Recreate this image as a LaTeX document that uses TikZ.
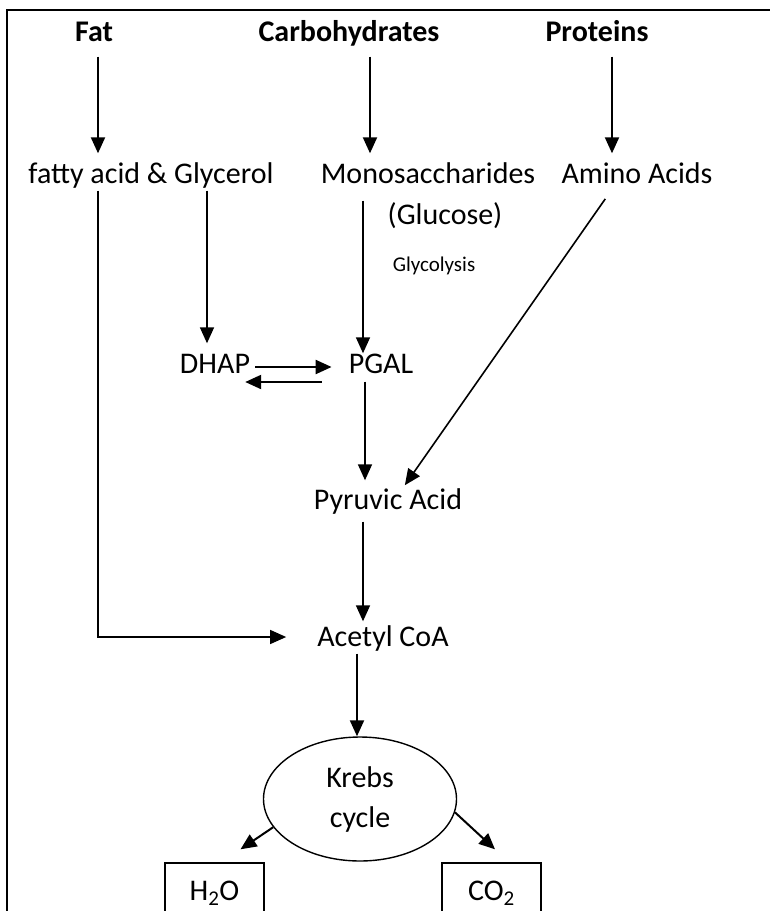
\documentclass[tikz,border=0pt]{standalone}
\usepackage{fontspec}
\setmainfont{Carlito}
\usetikzlibrary{arrows.meta,shapes.geometric}
\tikzset{
  lbl/.style={inner sep=0pt, text height=20pt, text depth=7pt, font=\fontsize{30}{36}\selectfont},
  toplbl/.style={lbl, font=\fontsize{30}{36}\selectfont\bfseries},
  arr/.style={line width=2pt, -{Triangle[length=16pt,width=14pt]}},
  thinarr/.style={arr, line width=1.6pt},
  endbox/.style={draw, line width=1.4pt, minimum width=99pt, minimum height=60pt, inner sep=0pt, font=\fontsize{30}{36}\selectfont},
}
\begin{document}
\begin{tikzpicture}[x=1pt, y=-1pt]
  \useasboundingbox (0,0) rectangle (770,911);
  % frame
  \draw[line width=2pt] (770,10) -- (7,10) -- (7,911);
  % Sources
  \node[toplbl] (fat) at (94,35) {Fat};
  \node[toplbl] (carbs) at (349,35) {Carbohydrates};
  \node[toplbl] (proteins) at (597,35) {Proteins};
  % Digestion products
  \node[lbl] (fatty) at (151,177) {fatty acid \& Glycerol};
  \node[lbl] (mono) at (428,177) {Monosaccharides};
  \node[lbl] (amino) at (637,177) {Amino Acids};
  \node[lbl] (glucose) at (445,218) {(Glucose)};
  \node[lbl, font=\fontsize{21}{25}\selectfont] (glyco) at (434,265) {Glycolysis};
  % Intermediates
  \node[lbl] (dhap) at (215,367) {DHAP};
  \node[lbl] (pgal) at (381,367) {PGAL};
  \node[lbl] (pyruvic) at (388,503) {Pyruvic Acid};
  \node[lbl] (acetyl) at (383,640) {Acetyl CoA};
  \node[draw, ellipse, line width=1.4pt, minimum width=193pt, minimum height=124pt, inner sep=0pt, align=center, font=\fontsize{30}{40}\selectfont] (krebs) at (360,799) {Krebs\\cycle};
  \node[endbox] (h2o) at (214.5,893) {H\textsubscript{2}O};
  \node[endbox] (co2) at (491.5,893) {CO\textsubscript{2}};
  % Arrows
  \draw[arr, shorten <=8pt, shorten >=10pt] ([xshift=4pt]fat.south) -- ([xshift=4pt]fat.south |- fatty.north);
  \draw[arr, shorten <=8pt, shorten >=10pt] ([xshift=21pt]carbs.south) -- ([xshift=21pt]carbs.south |- mono.north);
  \draw[arr, shorten <=8pt, shorten >=10pt] ([xshift=15pt]proteins.south) -- ([xshift=15pt]proteins.south |- amino.north);
  \draw[thinarr, line width=1.3pt, shorten >=31pt] ([xshift=-53pt]fatty.south) |- ([yshift=3pt]acetyl.west);
  \draw[thinarr, shorten >=10pt] ([xshift=-8pt]dhap.north |- fatty.south) -- ([xshift=-8pt]dhap.north);
  \draw[thinarr, shorten <=10pt] ([xshift=-18pt]pgal.north |- mono.south) -- ([xshift=-18pt]pgal.north);
  \draw[arr, line width=2.2pt] ([xshift=5pt]dhap.east) -- ([xshift=-17pt]pgal.west);
  \draw[arr, line width=2.2pt] ([xshift=-27pt,yshift=-15pt]pgal.west) -- ([xshift=-5pt,yshift=-15pt]dhap.east);
  \draw[thinarr, shorten <=1pt, shorten >=9pt] ([xshift=-16pt]pgal.south) -- ([xshift=-16pt]pgal.south |- pyruvic.north);
  \draw[thinarr, shorten <=10pt, shorten >=5pt] ([xshift=-26pt]amino.south) -- ([xshift=14pt]pyruvic.north);
  \draw[thinarr, shorten <=5pt, shorten >=5pt] ([xshift=-25pt]pyruvic.south) -- ([xshift=-25pt]pyruvic.south |- acetyl.north);
  \draw[arr] ([xshift=-26pt]acetyl.south) -- ([xshift=-26pt]acetyl.south |- krebs.north);
  \draw[arr] (krebs.198) -- ([xshift=26pt,yshift=13pt]h2o.north);
  \draw[arr] (krebs.352) -- ([xshift=3.5pt,yshift=13pt]co2.north);
\end{tikzpicture}
\end{document}
